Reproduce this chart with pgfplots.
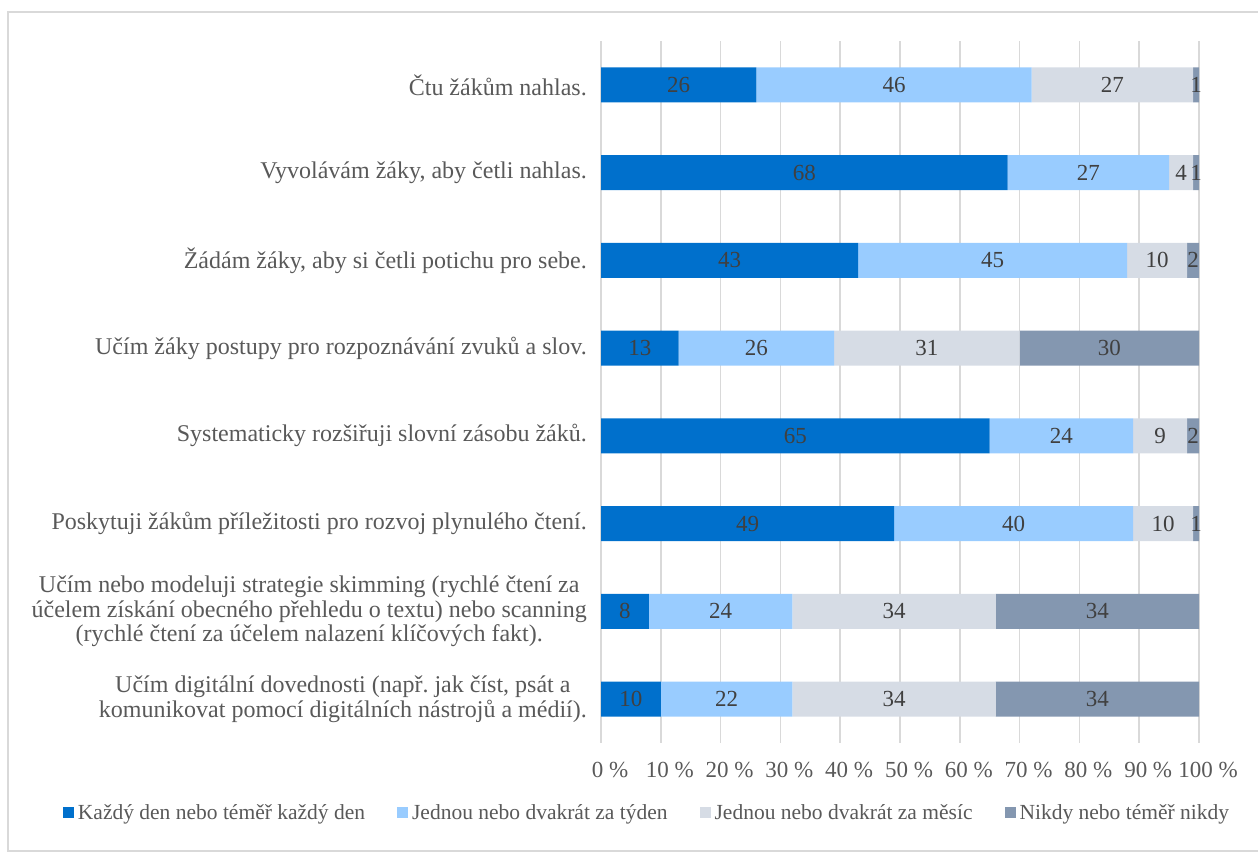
\documentclass[border=0pt]{standalone}
\usepackage{pgfplots}
\pgfplotsset{compat=1.18}
\usepackage{fontspec}
\setmainfont{Liberation Serif}

\definecolor{c1}{HTML}{0070CC}
\definecolor{c2}{HTML}{99CCFF}
\definecolor{c3}{HTML}{D6DCE5}
\definecolor{c4}{HTML}{8497B0}
\definecolor{gridgray}{HTML}{D9D9D9}
\definecolor{textgray}{HTML}{595959}
\definecolor{labelgray}{HTML}{404040}

\newcommand\fcat{\fontsize{24}{24.8}\selectfont}
\newcommand\ftick{\fontsize{23}{24}\selectfont}
\newcommand\fleg{\fontsize{21.5}{24}\selectfont}
\newcommand\fval{\fontsize{23}{24}\selectfont}
\pgfplotsset{
  sq/.style={legend image code/.code={\fill[##1,draw=none] (0pt,-5.5pt) rectangle (11pt,5.5pt);}},
}

\begin{document}
\begin{tikzpicture}
\useasboundingbox (0,0) rectangle (1258pt,853pt);
\draw[gridgray, line width=1.5pt] (8pt,2pt) rectangle (1270pt,841pt);
\begin{axis}[
    at={(601pt,110pt)}, anchor=south west,
    scale only axis,
    width=598pt,
    height=702pt,
    xbar stacked,
    bar width=35pt,
    xmin=0, xmax=100,
    ymin=-0.5, ymax=7.5,
    y dir=reverse,
    axis line style={draw=none},
    major tick length=0pt,
    tick style={draw=none},
    xmajorgrids,
    grid style={gridgray, line width=1.5pt},
    xtick={0,10,...,100},
    xticklabels={0~\%,10~\%,20~\%,30~\%,40~\%,50~\%,60~\%,70~\%,80~\%,90~\%,100~\%},
    xticklabel style={font=\ftick, text=textgray, anchor=center, inner sep=0pt, yshift=-27pt, xshift=9pt},
    ytick={0,...,7},
    yticklabels={
      {Čtu žákům nahlas.},
      {Vyvolávám žáky, aby četli nahlas.},
      {Žádám žáky, aby si četli potichu pro sebe.},
      {Učím žáky postupy pro rozpoznávání zvuků a slov.},
      {Systematicky rozšiřuji slovní zásobu žáků.},
      {Poskytuji žákům příležitosti pro rozvoj plynulého čtení.},
      {Učím nebo modeluji strategie skimming (rychlé čtení za\\účelem získání obecného přehledu o textu) nebo scanning\\(rychlé čtení za účelem nalazení klíčových fakt).},
      {Učím digitální dovednosti (např.\ jak číst, psát a\\komunikovat pomocí digitálních nástrojů a médií).}
    },
    yticklabel style={font=\fcat, text=textgray, align=center, anchor=east, inner sep=0pt, xshift=-14pt},
    nodes near coords,
    point meta=explicit symbolic,
    every node near coord/.append style={font=\fval, text=labelgray, anchor=center, inner sep=0pt},
    legend style={draw=none, font=\fleg, text=textgray, legend columns=4,
      at={(axis description cs:0.077,-0.0997)}, anchor=center,
      /tikz/every odd column/.append style={column sep=2pt},
      /tikz/every even column/.append style={column sep=30pt}},
    legend cell align={left},
]
% rows from top to bottom
\addplot[fill=c1, draw=none, sq] coordinates {
 (26,0) [26] (68,1) [68] (43,2) [43] (13,3) [13]
 (65,4) [65] (49,5) [49] (8,6) [8] (10,7) [10]
};
\addlegendentry{Každý den nebo téměř každý den}
\addplot[fill=c2, draw=none, sq] coordinates {
 (46,0) [46] (27,1) [27] (45,2) [45] (26,3) [26]
 (24,4) [24] (40,5) [40] (24,6) [24] (22,7) [22]
};
\addlegendentry{Jednou nebo dvakrát za týden}
\addplot[fill=c3, draw=none, sq] coordinates {
 (27,0) [27] (4,1) [4] (10,2) [10] (31,3) [31]
 (9,4) [9] (10,5) [10] (34,6) [34] (34,7) [34]
};
\addlegendentry{Jednou nebo dvakrát za měsíc}
\addplot[fill=c4, draw=none, sq] coordinates {
 (1,0) [1] (1,1) [1] (2,2) [2] (30,3) [30]
 (2,4) [2] (1,5) [1] (34,6) [34] (34,7) [34]
};
\addlegendentry{Nikdy nebo téměř nikdy}
\end{axis}
\end{tikzpicture}
\end{document}
